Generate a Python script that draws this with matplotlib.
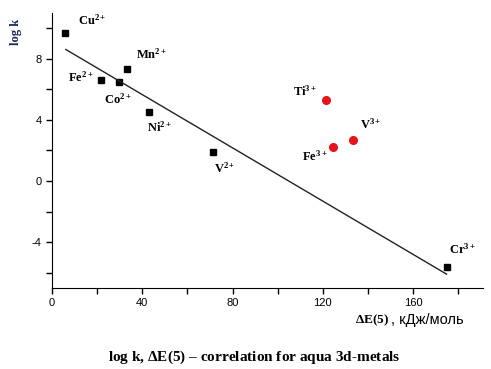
import matplotlib
matplotlib.use('Agg')
import matplotlib.pyplot as plt
import numpy as np

# aqua 3d-metal ions: dE(5), kJ/mol vs log k
ions_2 = ['Cu', 'Fe', 'Co', 'Mn', 'Ni', 'V', 'Cr']
charge_2 = ['2+', '2+', '2+', '2+', '2+', '2+', '3+']
dE_2 = [5.8, 21.7, 29.8, 33.1, 43.1, 71.2, 174.8]
logk_2 = [9.7, 6.6, 6.5, 7.3, 4.5, 1.9, -5.6]

ions_3 = ['Ti', 'V', 'Fe']
charge_3 = ['3+', '3+', '3+']
dE_3 = [121.3, 133.4, 124.6]
logk_3 = [5.3, 2.7, 2.2]

xticks = [0, 40, 80, 120, 160]
yticks = [-4, 0, 4, 8]

plt.rcParams['mathtext.fontset'] = 'custom'
plt.rcParams['mathtext.rm'] = 'Liberation Serif:bold'
plt.rcParams['mathtext.it'] = 'Liberation Serif:bold'
plt.rcParams['mathtext.bf'] = 'Liberation Serif:bold'
plt.rcParams['axes.unicode_minus'] = False

fig = plt.figure(figsize=(4.91, 3.69), dpi=100)
ax = fig.add_axes([0.106, 0.2195, 0.878, 0.7455])

ax.plot(dE_2, logk_2, 's', color='black', ms=5)
ax.plot(dE_3, logk_3, 'o', color='#e8141b', ms=5.5)

# least squares line through the black points
k, b = np.polyfit(dE_2, logk_2, 1)
xl = np.array([min(dE_2) + 0.3, max(dE_2)])
ax.plot(xl, k * xl + b, color='#222222', lw=1)

# label offsets in pixels (dx, dy, ha)
offs_2 = [(13, 12, 'left'), (-7, 3, 'right'), (-15, -18, 'left'), (9, 15, 'left'),
          (-2, -15, 'left'), (1, -16, 'left'), (2, 17, 'left')]
offs_3 = [(-9, 9, 'right'), (7, 15, 'left'), (-6, -9, 'right')]

lab_font = dict(family='Liberation Serif', weight='bold', fontsize=9)
for name, ch, x, y, (dx, dy, ha) in zip(ions_2, charge_2, dE_2, logk_2, offs_2):
    ax.annotate(name + r'$^{' + ch + '}$', (x, y), xytext=(dx, dy),
                textcoords='offset pixels', ha=ha, va='center', **lab_font)
for name, ch, x, y, (dx, dy, ha) in zip(ions_3, charge_3, dE_3, logk_3, offs_3):
    ax.annotate(name + r'$^{' + ch + '}$', (x, y), xytext=(dx, dy),
                textcoords='offset pixels', ha=ha, va='center', **lab_font)

ax.set_xlim(0, 191)
ax.set_ylim(-7, 11)
ax.set_xticks(xticks)
ax.set_yticks(yticks)
ax.set_xticks(np.arange(20, 191, 40), minor=True)
ax.set_yticks(np.arange(-6, 11, 4), minor=True)
ax.tick_params(which='both', direction='out', length=4, width=1, labelsize=8)
for lbl in ax.get_xticklabels() + ax.get_yticklabels():
    lbl.set_family('Liberation Sans')
ax.spines['top'].set_visible(False)
ax.spines['right'].set_visible(False)

fig.text(16 / 491, 1 - 32 / 369, 'log k', rotation=90, ha='center', va='center',
         family='Liberation Serif', weight='bold', fontsize=9, color='#1a2a5a')
fig.text(355 / 491, 1 - 320 / 369, r'$\Delta$E(5)', ha='left', va='center',
         family='Liberation Serif', weight='bold', fontsize=9.5)
fig.text(391 / 491, 1 - 320 / 369, ', кДж/моль', ha='left', va='center',
         family='Liberation Sans', fontsize=10.5)
fig.text(254 / 491, 1 - 357 / 369, r'log k, $\Delta$E(5) – correlation for aqua 3d-metals',
         ha='center', va='center', family='Liberation Serif', weight='bold', fontsize=11)

fig.savefig('out.png', dpi=100)
